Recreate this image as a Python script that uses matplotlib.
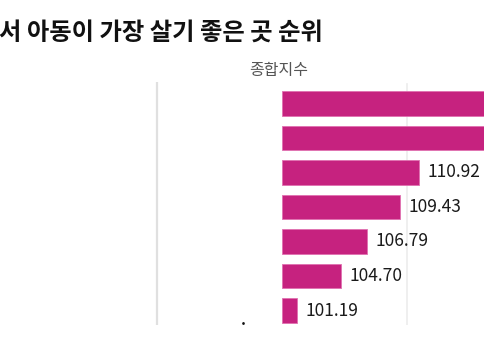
import matplotlib.pyplot as plt
import numpy as np

plt.rcParams['font.family'] = ['Noto Sans CJK KR', 'DejaVu Sans']

# data (top two bars run past the visible crop; values estimated, labels not visible)
values = [118.64, 117.32, 110.92, 109.43, 106.79, 104.70, 101.19]
labels = ['', '', '110.92', '109.43', '106.79', '104.70', '101.19']
base = 100
grid_vals = [90, 110]

bar_color = '#c6227f'

fig = plt.figure(figsize=(4.85, 3.6), dpi=100)
ax = fig.add_axes([0, 1 - 325 / 360, 1, 243 / 360])

y = np.arange(len(values))
widths = [v - base for v in values]
ax.barh(y, widths, left=base, height=0.71, color=bar_color,
        edgecolor='#e070b0', linewidth=0.6, zorder=3)

for yi, v, lab in zip(y, values, labels):
    if lab:
        ax.text(v + 0.7, yi, lab, va='center', ha='left', fontsize=12.5,
                fontweight='medium', color='#1a1a1a', zorder=4)

ax.axvline(grid_vals[0], color='#e0e0e0', lw=1.6, zorder=1)
ax.axvline(grid_vals[1], color='#ececec', lw=1.2, ymax=0.99, zorder=1)

ax.set_xlim(77.5, 116.2)
ax.set_ylim(6.42, -0.62)
ax.axis('off')

fig.text(-0.002, 1 - 33 / 360, '서 아동이 가장 살기 좋은 곳 순위', fontsize=17.5,
         fontweight='bold', color='#111111', va='center', ha='left')
fig.text(279 / 485, 1 - 70 / 360, '종합지수', fontsize=11.5, color='#555555',
         va='center', ha='center')
fig.text(243 / 485, 1 - 320 / 360, '.', fontsize=11, color='#111111',
         va='center', ha='center', fontweight='bold')

fig.savefig('out.png', dpi=100)
